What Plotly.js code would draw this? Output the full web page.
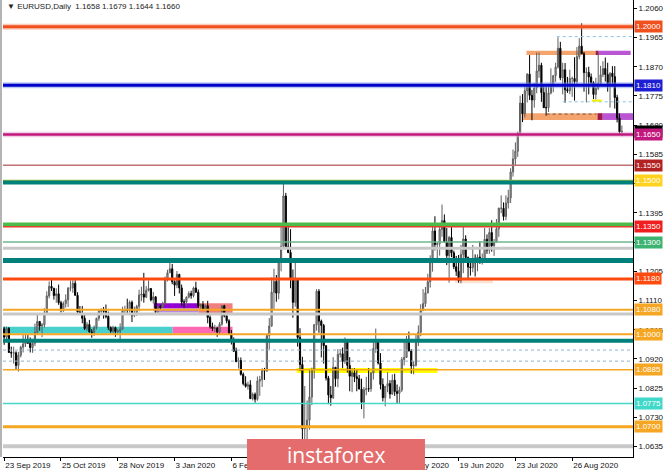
<!DOCTYPE html>
<html><head><meta charset="utf-8">
<script src="https://cdn.plot.ly/plotly-3.0.1.min.js"></script>
<style>html,body{margin:0;padding:0;background:#fff;}#chart{width:665px;height:470px;}</style>
</head><body><div id="chart"></div>
<script>
// ---- data: EURUSD daily bars (weekdays, Sep 23 2019 - Sep 24 2020) ----
const dates = [
"2019-09-23","2019-09-24","2019-09-25","2019-09-26","2019-09-27","2019-09-30",
"2019-10-01","2019-10-02","2019-10-03","2019-10-04","2019-10-07","2019-10-08","2019-10-09","2019-10-10","2019-10-11","2019-10-14","2019-10-15","2019-10-16","2019-10-17","2019-10-18","2019-10-21","2019-10-22","2019-10-23","2019-10-24","2019-10-25","2019-10-28","2019-10-29","2019-10-30","2019-10-31",
"2019-11-01","2019-11-04","2019-11-05","2019-11-06","2019-11-07","2019-11-08","2019-11-11","2019-11-12","2019-11-13","2019-11-14","2019-11-15","2019-11-18","2019-11-19","2019-11-20","2019-11-21","2019-11-22","2019-11-25","2019-11-26","2019-11-27","2019-11-28","2019-11-29",
"2019-12-02","2019-12-03","2019-12-04","2019-12-05","2019-12-06","2019-12-09","2019-12-10","2019-12-11","2019-12-12","2019-12-13","2019-12-16","2019-12-17","2019-12-18","2019-12-19","2019-12-20","2019-12-23","2019-12-24","2019-12-26","2019-12-27","2019-12-30","2019-12-31",
"2020-01-02","2020-01-03","2020-01-06","2020-01-07","2020-01-08","2020-01-09","2020-01-10","2020-01-13","2020-01-14","2020-01-15","2020-01-16","2020-01-17","2020-01-20","2020-01-21","2020-01-22","2020-01-23","2020-01-24","2020-01-27","2020-01-28","2020-01-29","2020-01-30","2020-01-31",
"2020-02-03","2020-02-04","2020-02-05","2020-02-06","2020-02-07","2020-02-10","2020-02-11","2020-02-12","2020-02-13","2020-02-14","2020-02-17","2020-02-18","2020-02-19","2020-02-20","2020-02-21","2020-02-24","2020-02-25","2020-02-26","2020-02-27","2020-02-28",
"2020-03-02","2020-03-03","2020-03-04","2020-03-05","2020-03-06","2020-03-09","2020-03-10","2020-03-11","2020-03-12","2020-03-13","2020-03-16","2020-03-17","2020-03-18","2020-03-19","2020-03-20","2020-03-23","2020-03-24","2020-03-25","2020-03-26","2020-03-27","2020-03-30","2020-03-31",
"2020-04-01","2020-04-02","2020-04-03","2020-04-06","2020-04-07","2020-04-08","2020-04-09","2020-04-10","2020-04-13","2020-04-14","2020-04-15","2020-04-16","2020-04-17","2020-04-20","2020-04-21","2020-04-22","2020-04-23","2020-04-24","2020-04-27","2020-04-28","2020-04-29","2020-04-30",
"2020-05-01","2020-05-04","2020-05-05","2020-05-06","2020-05-07","2020-05-08","2020-05-11","2020-05-12","2020-05-13","2020-05-14","2020-05-15","2020-05-18","2020-05-19","2020-05-20","2020-05-21","2020-05-22","2020-05-25","2020-05-26","2020-05-27","2020-05-28","2020-05-29",
"2020-06-01","2020-06-02","2020-06-03","2020-06-04","2020-06-05","2020-06-08","2020-06-09","2020-06-10","2020-06-11","2020-06-12","2020-06-15","2020-06-16","2020-06-17","2020-06-18","2020-06-19","2020-06-22","2020-06-23","2020-06-24","2020-06-25","2020-06-26","2020-06-29","2020-06-30",
"2020-07-01","2020-07-02","2020-07-03","2020-07-06","2020-07-07","2020-07-08","2020-07-09","2020-07-10","2020-07-13","2020-07-14","2020-07-15","2020-07-16","2020-07-17","2020-07-20","2020-07-21","2020-07-22","2020-07-23","2020-07-24","2020-07-27","2020-07-28","2020-07-29","2020-07-30","2020-07-31",
"2020-08-03","2020-08-04","2020-08-05","2020-08-06","2020-08-07","2020-08-10","2020-08-11","2020-08-12","2020-08-13","2020-08-14","2020-08-17","2020-08-18","2020-08-19","2020-08-20","2020-08-21","2020-08-24","2020-08-25","2020-08-26","2020-08-27","2020-08-28","2020-08-31",
"2020-09-01","2020-09-02","2020-09-03","2020-09-04","2020-09-07","2020-09-08","2020-09-09","2020-09-10","2020-09-11","2020-09-14","2020-09-15","2020-09-16","2020-09-17","2020-09-18","2020-09-21","2020-09-22","2020-09-23","2020-09-24"
];
const open = [
1.1018,1.0991,1.1019,1.0941,1.0939,1.0940,1.0899,1.0932,1.0958,1.0969,
1.0980,1.0971,1.0957,1.0971,1.1006,1.1042,1.1027,1.1031,1.1069,1.1125,
1.1156,1.1150,1.1126,1.1132,1.1103,1.1081,1.1100,1.1112,1.1150,1.1151,
1.1166,1.1127,1.1073,1.1067,1.1052,1.1019,1.1032,1.1008,1.1006,1.1022,
1.1052,1.1075,1.1078,1.1075,1.1058,1.1022,1.1010,1.1022,1.1009,1.1010,
1.1017,1.1078,1.1081,1.1078,1.1104,1.1061,1.1065,1.1091,1.1128,1.1131,
1.1121,1.1143,1.1149,1.1112,1.1122,1.1078,1.1090,1.1088,1.1100,1.1178,
1.1200,1.1213,1.1171,1.1160,1.1195,1.1151,1.1105,1.1105,1.1121,1.1133,
1.1126,1.1151,1.1137,1.1092,1.1097,1.1083,1.1093,1.1055,1.1025,1.1019,
1.1020,1.1008,1.1033,1.1093,1.1060,1.1044,1.1000,1.0981,1.0945,1.0911,
1.0915,1.0870,1.0840,1.0831,1.0836,1.0791,1.0805,1.0789,1.0848,1.0853,
1.0882,1.0881,1.0996,1.1027,1.1137,1.1172,1.1134,1.1238,1.1286,1.1450,
1.1285,1.1266,1.1178,1.1104,1.1180,1.0990,1.0902,1.0693,1.0700,1.0721,
1.0796,1.0884,1.1031,1.1140,1.1043,1.1029,1.0963,1.0858,1.0803,1.0794,
1.0893,1.0856,1.0935,1.0937,1.0912,1.0980,1.0899,1.0864,1.0875,1.0862,
1.0856,1.0822,1.0779,1.0820,1.0824,1.0823,1.0874,1.0954,1.0981,1.0907,
1.0837,1.0794,1.0831,1.0840,1.0806,1.0851,1.0814,1.0808,1.0819,1.0918,
1.0925,1.0977,1.0946,1.0897,1.0900,1.0980,1.1007,1.1077,1.1100,1.1135,
1.1171,1.1234,1.1336,1.1292,1.1295,1.1341,1.1370,1.1300,1.1256,1.1315,
1.1265,1.1220,1.1205,1.1175,1.1260,1.1310,1.1250,1.1219,1.1217,1.1247,
1.1233,1.1251,1.1238,1.1246,1.1309,1.1274,1.1331,1.1288,1.1300,1.1343,
1.1410,1.1410,1.1383,1.1427,1.1444,1.1528,1.1570,1.1595,1.1655,1.1752,
1.1717,1.1792,1.1846,1.1777,1.1762,1.1801,1.1856,1.1875,1.1786,1.1737,
1.1737,1.1785,1.1812,1.1841,1.1869,1.1930,1.1834,1.1860,1.1795,1.1792,
1.1832,1.1832,1.1822,1.1903,1.1937,1.1912,1.1851,1.1852,1.1837,1.1818,
1.1780,1.1800,1.1816,1.1844,1.1864,1.1845,1.1815,1.1849,1.1838,1.1770,
1.1703,1.1658
];
const high = [
1.1025,1.1025,1.1024,1.0960,1.0960,1.0945,1.0943,1.0963,1.0999,1.0999,
1.1000,1.0990,1.0985,1.1035,1.1063,1.1043,1.1037,1.1085,1.1140,1.1172,
1.1179,1.1151,1.1150,1.1162,1.1109,1.1107,1.1130,1.1154,1.1175,1.1176,
1.1176,1.1137,1.1092,1.1092,1.1064,1.1040,1.1047,1.1017,1.1029,1.1054,
1.1080,1.1085,1.1089,1.1097,1.1074,1.1026,1.1028,1.1025,1.1017,1.1036,
1.1090,1.1093,1.1116,1.1110,1.1110,1.1090,1.1096,1.1145,1.1155,1.1200,
1.1157,1.1175,1.1150,1.1138,1.1124,1.1092,1.1096,1.1106,1.1188,1.1210,
1.1239,1.1229,1.1176,1.1206,1.1197,1.1162,1.1114,1.1123,1.1140,1.1142,
1.1155,1.1171,1.1146,1.1100,1.1108,1.1097,1.1109,1.1062,1.1038,1.1031,
1.1025,1.1040,1.1095,1.1096,1.1065,1.1049,1.1014,1.0990,1.0957,1.0925,
1.0925,1.0876,1.0864,1.0846,1.0851,1.0811,1.0811,1.0863,1.0865,1.0890,
1.0891,1.1002,1.1053,1.1185,1.1213,1.1193,1.1245,1.1356,1.1495,1.1460,
1.1358,1.1342,1.1211,1.1237,1.1180,1.1020,1.0927,1.0832,1.0785,1.0888,
1.0892,1.1034,1.1147,1.1147,1.1048,1.1034,1.0965,1.0865,1.0832,1.0926,
1.0893,1.0952,1.0952,1.0957,1.0990,1.0985,1.0926,1.0890,1.0890,1.0885,
1.0868,1.0856,1.0829,1.0862,1.0890,1.0878,1.0974,1.1019,1.0985,1.0939,
1.0857,1.0829,1.0877,1.0851,1.0870,1.0872,1.0837,1.0830,1.0926,1.0976,
1.0995,1.1009,1.0952,1.0913,1.1000,1.1029,1.1098,1.1147,1.1154,1.1197,
1.1257,1.1361,1.1384,1.1299,1.1362,1.1422,1.1390,1.1346,1.1320,1.1350,
1.1272,1.1255,1.1258,1.1291,1.1349,1.1322,1.1253,1.1248,1.1291,1.1260,
1.1260,1.1303,1.1263,1.1346,1.1325,1.1346,1.1371,1.1310,1.1375,1.1412,
1.1452,1.1429,1.1452,1.1470,1.1540,1.1601,1.1624,1.1659,1.1776,1.1781,
1.1806,1.1849,1.1908,1.1795,1.1817,1.1916,1.1916,1.1883,1.1810,1.1806,
1.1815,1.1865,1.1843,1.1883,1.1966,1.1951,1.1883,1.1882,1.1837,1.1860,
1.1838,1.1901,1.1934,1.1963,1.2011,1.1918,1.1868,1.1870,1.1848,1.1823,
1.1834,1.1917,1.1873,1.1888,1.1900,1.1883,1.1852,1.1872,1.1872,1.1779,
1.1718,1.1679
];
const low = [
1.0966,1.0975,1.0940,1.0924,1.0905,1.0885,1.0879,1.0925,1.0941,1.0959,
1.0970,1.0941,1.0940,1.0962,1.1000,1.1012,1.0991,1.1022,1.1064,1.1117,
1.1141,1.1113,1.1103,1.1096,1.1071,1.1073,1.1087,1.1089,1.1140,1.1135,
1.1126,1.1065,1.1063,1.1036,1.1014,1.1011,1.1006,1.0989,1.0995,1.1016,
1.1044,1.1062,1.1051,1.1052,1.1014,1.1005,1.1003,1.0992,1.0999,1.0981,
1.1015,1.1065,1.1068,1.1071,1.1040,1.1056,1.1060,1.1075,1.1108,1.1103,
1.1118,1.1139,1.1107,1.1100,1.1066,1.1065,1.1079,1.1086,1.1095,1.1172,
1.1200,1.1163,1.1125,1.1150,1.1133,1.1093,1.1085,1.1092,1.1117,1.1116,
1.1120,1.1135,1.1086,1.1084,1.1079,1.1079,1.1036,1.1019,1.1011,1.1008,
1.0992,1.1001,1.1028,1.1055,1.1036,1.0998,1.0967,1.0944,1.0911,1.0889,
1.0866,1.0834,1.0827,1.0820,1.0791,1.0785,1.0778,1.0784,1.0800,1.0829,
1.0852,1.0878,1.0951,1.1025,1.1083,1.1106,1.1114,1.1205,1.1286,1.1283,
1.1264,1.1150,1.1054,1.1090,1.0960,1.0881,1.0654,1.0636,1.0636,1.0690,
1.0770,1.0856,1.1012,1.1005,1.0925,1.0905,1.0850,1.0773,1.0768,1.0790,
1.0830,1.0828,1.0925,1.0890,1.0904,1.0876,1.0815,1.0812,1.0845,1.0815,
1.0822,1.0757,1.0727,1.0802,1.0813,1.0813,1.0853,1.0940,1.0902,1.0821,
1.0782,1.0766,1.0812,1.0791,1.0803,1.0800,1.0775,1.0774,1.0813,1.0899,
1.0924,1.0945,1.0872,1.0870,1.0895,1.0962,1.0994,1.1076,1.1089,1.1133,
1.1152,1.1204,1.1273,1.1240,1.1256,1.1317,1.1300,1.1225,1.1168,1.1251,
1.1212,1.1190,1.1168,1.1166,1.1199,1.1236,1.1182,1.1191,1.1202,1.1188,
1.1205,1.1229,1.1227,1.1241,1.1262,1.1262,1.1269,1.1255,1.1298,1.1317,
1.1394,1.1370,1.1371,1.1409,1.1427,1.1513,1.1547,1.1577,1.1648,1.1690,
1.1705,1.1754,1.1762,1.1696,1.1737,1.1784,1.1834,1.1756,1.1737,1.1711,
1.1723,1.1780,1.1787,1.1821,1.1864,1.1826,1.1780,1.1753,1.1785,1.1781,
1.1772,1.1760,1.1812,1.1894,1.1912,1.1789,1.1754,1.1780,1.1809,1.1765,
1.1763,1.1794,1.1809,1.1836,1.1822,1.1789,1.1737,1.1814,1.1734,1.1689,
1.1651,1.1644
];
const close = [
1.0991,1.1019,1.0941,1.0939,1.0940,1.0899,1.0932,1.0958,1.0969,1.0980,
1.0971,1.0957,1.0971,1.1006,1.1042,1.1027,1.1031,1.1069,1.1125,1.1156,
1.1150,1.1126,1.1132,1.1103,1.1081,1.1100,1.1112,1.1150,1.1151,1.1166,
1.1127,1.1073,1.1067,1.1052,1.1019,1.1032,1.1008,1.1006,1.1022,1.1052,
1.1075,1.1078,1.1075,1.1058,1.1022,1.1010,1.1022,1.1009,1.1010,1.1017,
1.1078,1.1081,1.1078,1.1104,1.1061,1.1065,1.1091,1.1128,1.1131,1.1121,
1.1143,1.1149,1.1112,1.1122,1.1078,1.1090,1.1088,1.1100,1.1178,1.1200,
1.1213,1.1171,1.1160,1.1195,1.1151,1.1105,1.1105,1.1121,1.1133,1.1126,
1.1151,1.1137,1.1092,1.1097,1.1083,1.1093,1.1055,1.1025,1.1019,1.1020,
1.1008,1.1033,1.1093,1.1060,1.1044,1.1000,1.0981,1.0945,1.0911,1.0915,
1.0870,1.0840,1.0831,1.0836,1.0791,1.0805,1.0789,1.0848,1.0853,1.0882,
1.0881,1.0996,1.1027,1.1137,1.1172,1.1134,1.1238,1.1286,1.1450,1.1285,
1.1266,1.1178,1.1104,1.1180,1.0990,1.0902,1.0693,1.0700,1.0721,1.0796,
1.0884,1.1031,1.1140,1.1043,1.1029,1.0963,1.0858,1.0803,1.0794,1.0893,
1.0856,1.0935,1.0937,1.0912,1.0980,1.0899,1.0864,1.0875,1.0862,1.0856,
1.0822,1.0779,1.0820,1.0824,1.0823,1.0874,1.0954,1.0981,1.0907,1.0837,
1.0794,1.0831,1.0840,1.0806,1.0851,1.0814,1.0808,1.0819,1.0918,1.0925,
1.0977,1.0946,1.0897,1.0900,1.0980,1.1007,1.1077,1.1100,1.1135,1.1171,
1.1234,1.1336,1.1292,1.1295,1.1341,1.1370,1.1300,1.1256,1.1315,1.1265,
1.1220,1.1205,1.1175,1.1260,1.1310,1.1250,1.1219,1.1217,1.1247,1.1233,
1.1251,1.1238,1.1246,1.1309,1.1274,1.1331,1.1288,1.1300,1.1343,1.1410,
1.1410,1.1383,1.1427,1.1444,1.1528,1.1570,1.1595,1.1655,1.1752,1.1717,
1.1792,1.1846,1.1777,1.1762,1.1801,1.1856,1.1875,1.1786,1.1737,1.1737,
1.1785,1.1812,1.1841,1.1869,1.1930,1.1834,1.1860,1.1795,1.1792,1.1832,
1.1832,1.1822,1.1903,1.1937,1.1912,1.1851,1.1852,1.1837,1.1818,1.1780,
1.1800,1.1816,1.1844,1.1864,1.1845,1.1815,1.1849,1.1838,1.1770,1.1703,
1.1658,1.1660
];

// price-axis tick values and date-label bar indices
const yTicks = [1.2060,1.1965,1.1870,1.1775,1.1680,1.1585,1.1490,1.1395,1.1300,1.1205,1.1110,1.1015,1.0920,1.0825,1.0730,1.0635];
const yTicksHidden = [1.1490,1.1300];          // covered by price tags in the reference
const dateTickBars = [0,24,48,72,96,120,144,168,192,216,240];
const dateTicksHidden = [120,144];             // covered by the watermark in the reference

// horizontal levels (full width)
const levelPrices = [1.2000,1.1810,1.1650,1.1550,1.1500,1.1494,1.1357,1.1350,1.1300,1.1280,1.1240,1.1180,1.1080,1.1066,1.1000,1.0979,1.0949,1.0913,1.0885,1.0775,1.0700,1.0636];
// partial levels: price, startBar, endBar
const rayPrices = [1.1968,1.1756,1.1716,1.1760];
const rayStart  = [233.5,236,229.2,248.3];
const rayEnd    = [265.7,265.7,250.3,252.5];
// zones: bar range and price range
const zoneStart = [220.7,249.9,251.2,218.9,250.7,252.9,-0.5,71.2,63.2,63.2,82.2,123.6,190.5];
const zoneEnd   = [249.9,251.2,264.7,250.7,252.9,265.7,71.2,96.5,82.2,82.2,96.5,183.1,206.5];
const zoneLow   = [1.1908,1.1908,1.1908,1.1697,1.1697,1.1697,1.1003,1.1003,1.1084,1.1071,1.1069,1.0874,1.1166];
const zoneHigh  = [1.1922,1.1922,1.1922,1.1719,1.1719,1.1719,1.1025,1.1025,1.1101,1.1084,1.1101,1.0891,1.1180];
// price tags on the right
const tagPrices = [1.2000,1.1810,1.1660,1.1650,1.1550,1.1500,1.1350,1.1300,1.1180,1.1080,1.1000,1.0885,1.0775,1.0700];
const tagTexts  = ["1.2000","1.1810","1.1660","1.1650","1.1550","1.1500","1.1350","1.1300","1.1180","1.1080","1.1000","1.0885","1.0775","1.0700"];
const headerText = "EURUSD,Daily  1.1658 1.1679 1.1644 1.1660";

// ---- styles ----
const levelStyle = [
 {c:'#F0501E',w:3,h:'rgba(245,140,100,0.45)'},
 {c:'#0000C8',w:3,h:'rgba(120,150,235,0.5)'},
 {c:'#C2187D',w:2.5,h:'rgba(230,160,205,0.5)'},
 {c:'#C07070',w:1.5},
 {c:'#A8C43C',w:1.5},
 {c:'#00807A',w:4},
 {c:'#4CBB4C',w:4},
 {c:'#E0402A',w:1.5},
 {c:'#6DB98F',w:1.5},
 {c:'#C8C8C8',w:3},
 {c:'#00807A',w:5},
 {c:'#FF4A10',w:3},
 {c:'#F5A623',w:2},
 {c:'#C8C8C8',w:3},
 {c:'#F5A623',w:2},
 {c:'#00807A',w:4},
 {c:'#8FB2D0',w:1,d:'dot'},
 {c:'#8FB2D0',w:1,d:'dot'},
 {c:'#F5A623',w:1.5},
 {c:'#48D8C8',w:1.5},
 {c:'#F5A623',w:3},
 {c:'#C8C8C8',w:4}
];
const rayStyle = [
 {c:'#8FC1E0',w:1,d:'dot'},
 {c:'#8FC1E0',w:1,d:'dot'},
 {c:'#6a5a50',w:1,d:'dot'},
 {c:'#F0F000',w:2}
];
const zoneColors = ['#F4A46C','#A0174A','#BA55D3','#F4A46C','#A0174A','#BA55D3','#48D1CC','#FF69B4','#9400D3','#B98AE0','#F08080','#FFFF00','#FBE3D3'];
const tagColors = ['#F0501E','#1E1ED2','#000000','#C2187D','#B22222','#FFD21E','#F01E1E','#3CB371','#FF4A10','#F5A623','#F5A623','#F5A623','#40D8C8','#F5A623'];

const MONTHS = ['Jan','Feb','Mar','Apr','May','Jun','Jul','Aug','Sep','Oct','Nov','Dec'];
function fmtDate(s){const p=s.split('-');return parseInt(p[2],10)+' '+MONTHS[parseInt(p[1],10)-1]+' '+p[0];}

const xIdx = dates.map((d,i)=>i);
const trace = {
  type:'candlestick', x:xIdx, open:open, high:high, low:low, close:close,
  increasing:{line:{color:'#5e5e5e',width:1},fillcolor:'#a9a9a9'},
  decreasing:{line:{color:'#000000',width:1},fillcolor:'#000000'},
  whiskerwidth:0, hoverinfo:'skip', showlegend:false
};

const shapes = [];
zoneStart.forEach((s,i)=>shapes.push({type:'rect',xref:'x',yref:'y',x0:s,x1:zoneEnd[i],y0:zoneLow[i],y1:zoneHigh[i],fillcolor:zoneColors[i],line:{width:0},layer:'below'}));
levelPrices.forEach((p,i)=>{
  const st=levelStyle[i];
  if(st.h) shapes.push({type:'line',xref:'paper',yref:'y',x0:0,x1:1,y0:p,y1:p,line:{color:st.h,width:st.w+3},layer:'above'});
  shapes.push({type:'line',xref:'paper',yref:'y',x0:0,x1:1,y0:p,y1:p,line:{color:st.c,width:st.w,dash:st.d||'solid'},layer:'above'});
});
rayPrices.forEach((p,i)=>{
  const st=rayStyle[i];
  shapes.push({type:'line',xref:'x',yref:'y',x0:rayStart[i],x1:rayEnd[i],y0:p,y1:p,line:{color:st.c,width:st.w,dash:st.d||'solid'},layer:'above'});
});
shapes.push({type:'rect',xref:'paper',yref:'paper',xsizemode:'pixel',xanchor:0,x0:-3,x1:-1,y0:0,y1:1,fillcolor:'#B4B4B4',line:{width:0},layer:'above'});
shapes.push({type:'rect',xref:'paper',yref:'paper',x0:0.3873,x1:0.6698,y0:-0.03,y1:0.0394,fillcolor:'rgb(228,108,108)',line:{width:0},layer:'above'});

const annotations = [];
tagPrices.forEach((p,i)=>annotations.push({xref:'paper',yref:'y',x:1,y:p,xanchor:'left',yanchor:'middle',xshift:1,text:tagTexts[i],showarrow:false,bgcolor:tagColors[i],borderpad:1,font:{size:8,color:'#ffffff',family:'Liberation Sans, Arial, sans-serif'}}));
annotations.push({xref:'paper',yref:'paper',x:0,y:0.9847,xanchor:'left',yanchor:'middle',xshift:2,text:'\u25BC '+headerText.replace(/ /g,'\u00a0'),showarrow:false,font:{size:8,color:'#222222',family:'Liberation Sans, Arial, sans-serif'}});
annotations.push({xref:'paper',yref:'paper',x:0.5286,y:0.004,xanchor:'center',yanchor:'middle',text:'instaforex',showarrow:false,font:{size:21,color:'#ffffff',family:'Open Sans, Roboto, sans-serif'}});

const layout = {
  width:665,height:470,margin:{l:3,r:32,t:0,b:13,pad:0},
  paper_bgcolor:'#ffffff',plot_bgcolor:'#ffffff',showlegend:false,
  font:{family:'Liberation Sans, Arial, sans-serif',size:8,color:'#111111'},
  xaxis:{range:[-0.5,265.7],tickmode:'array',tickvals:dateTickBars,
    ticktext:dateTickBars.map(i=>dateTicksHidden.includes(i)?'':fmtDate(dates[i])),
    ticks:'outside',ticklen:3,tickcolor:'#000',showline:true,linecolor:'#000',linewidth:1,showgrid:false,zeroline:false,
    rangeslider:{visible:false},ticklabelposition:'outside right',tickfont:{size:8,color:'#111'},fixedrange:true},
  yaxis:{side:'right',range:[1.06013,1.20870],tickmode:'array',tickvals:yTicks,
    ticktext:yTicks.map(v=>yTicksHidden.includes(v)?'':v.toFixed(4)),
    ticks:'outside',ticklen:3,tickcolor:'#000',showline:true,linecolor:'#000',linewidth:1,showgrid:false,zeroline:false,
    tickfont:{size:8,color:'#111'},fixedrange:true},
  shapes:shapes,annotations:annotations
};
Plotly.newPlot('chart',[trace],layout,{staticPlot:true,displayModeBar:false});
</script></body></html>
